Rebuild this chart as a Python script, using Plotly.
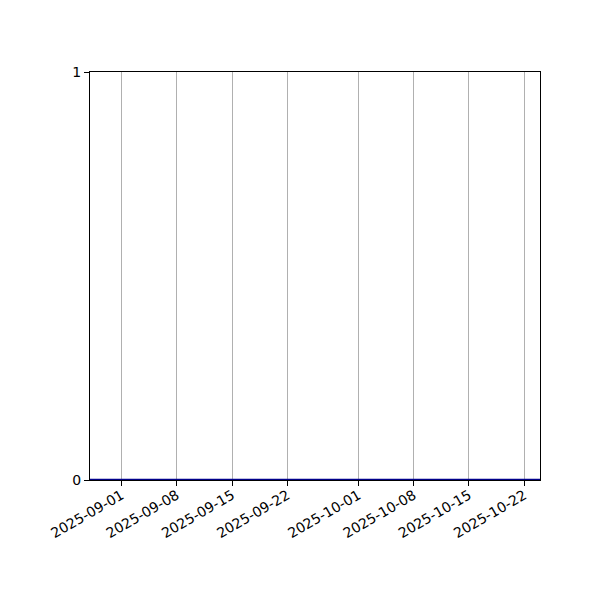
import plotly.graph_objects as go

# serie diaria (todo en cero)
fechas = ["2025-08-28", "2025-09-01", "2025-09-08", "2025-09-15", "2025-09-22",
          "2025-10-01", "2025-10-08", "2025-10-15", "2025-10-22", "2025-10-24"]
valores = [0, 0, 0, 0, 0, 0, 0, 0, 0, 0]

ticks_x = ["2025-09-01", "2025-09-08", "2025-09-15", "2025-09-22",
           "2025-10-01", "2025-10-08", "2025-10-15", "2025-10-22"]
ticks_y = [0, 1]

fig = go.Figure()
fig.add_trace(go.Scatter(
    x=fechas, y=valores,
    mode="lines",
    line=dict(color="#00008b", width=2.5),
    cliponaxis=False,
    showlegend=False,
))

fig.update_xaxes(
    type="date",
    range=[fechas[0], fechas[-1]],
    tickmode="array",
    tickvals=ticks_x,
    ticktext=ticks_x,
    tickangle=-30,
    ticks="outside", ticklen=5, tickwidth=1, tickcolor="black",
    ticklabelstandoff=-4,
    showgrid=True, gridcolor="#b0b0b0", gridwidth=1,
    showline=True, linecolor="black", linewidth=1, mirror=True,
    zeroline=False,
    layer="below traces",
)
fig.update_yaxes(
    range=[0, 1],
    tickmode="array",
    tickvals=ticks_y,
    ticks="outside", ticklen=5, tickwidth=1, tickcolor="black",
    ticklabelstandoff=0,
    showgrid=False,
    showline=True, linecolor="black", linewidth=1, mirror=True,
    zeroline=False,
    layer="below traces",
)

fig.update_layout(
    width=600, height=600,
    margin=dict(l=82, r=68, t=64, b=128),
    paper_bgcolor="white", plot_bgcolor="white",
    font=dict(family="DejaVu Sans", size=14, color="black"),
)

fig.write_html("out.html")
